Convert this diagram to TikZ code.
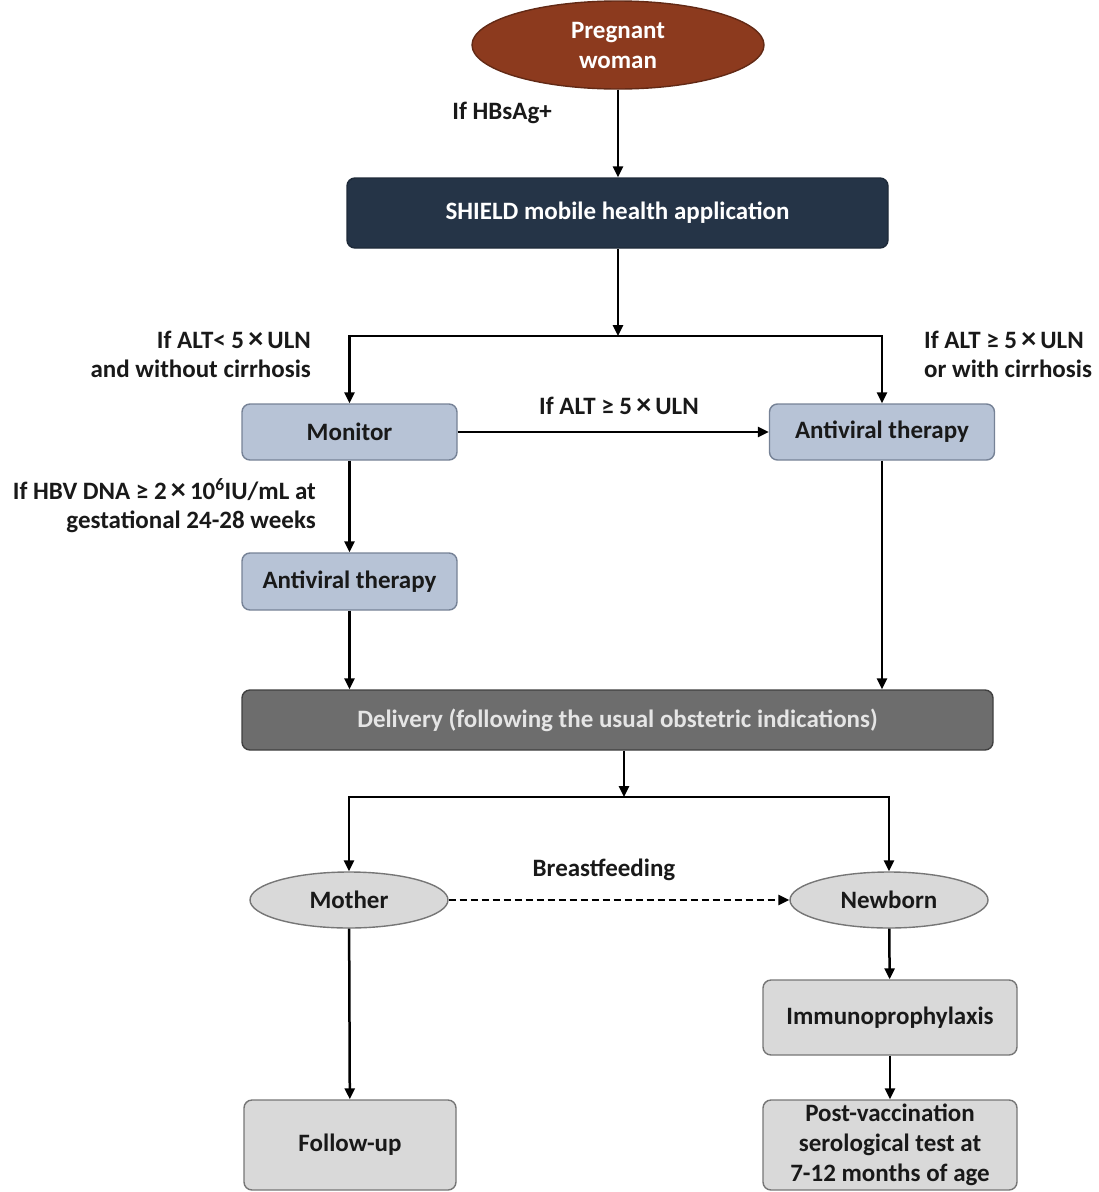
\documentclass[tikz,border=0pt]{standalone}
\usepackage{fontspec}
\setmainfont{Carlito}
\usetikzlibrary{arrows.meta,shapes.geometric}
\definecolor{brownred}{RGB}{140,58,30}
\definecolor{navy}{RGB}{37,52,71}
\definecolor{lblue}{RGB}{183,195,214}
\definecolor{lblueb}{RGB}{118,130,150}
\definecolor{dgray}{RGB}{109,109,109}
\definecolor{lgray}{RGB}{217,217,217}
\definecolor{lgrayb}{RGB}{118,118,118}
\definecolor{txt}{RGB}{25,25,25}
\newcommand{\mytimes}{\,{\fontsize{30}{30}\selectfont ×}\,}
\begin{document}
\begin{tikzpicture}[x=1pt,y=-1pt,
  font=\bfseries\fontsize{25}{30}\selectfont,
  box/.style={rectangle, rounded corners=8pt, line width=1.4pt, align=center, inner sep=0pt},
  bluebox/.style={box, fill=lblue, draw=lblueb, text=txt},
  graybox/.style={box, fill=lgray, draw=lgrayb, text=txt},
  oval/.style={ellipse, inner sep=0pt, line width=1.4pt, align=center},
  lbl/.style={text=txt, inner sep=0pt, font=\bfseries\fontsize{25}{29}\selectfont},
  arr/.style={line width=2.5pt, draw=black, -{Triangle[length=11pt,width=10pt]}},
  plain/.style={line width=2.5pt, draw=black}
]
\useasboundingbox (0,0) rectangle (1099,1192);

% nodes
\node[oval, fill=brownred, draw=brownred!70!black, text=white, minimum width=292, minimum height=88] (pw) at (618,45) {Pregnant\\woman};
\node[box, fill=navy, draw=navy!80!black, text=white, minimum width=541, minimum height=70] (shield) at (617.5,213) {SHIELD mobile health application};
\node[bluebox, minimum width=215, minimum height=56] (mon) at (349.5,432) {Monitor};
\node[bluebox, minimum width=225, minimum height=56] (avr) at (882,432) {Antiviral therapy};
\node[bluebox, minimum width=215, minimum height=57] (av2) at (349.5,581.5) {Antiviral therapy};
\node[box, fill=dgray, draw=black!75, text=white!90!black, minimum width=751, minimum height=60] (del) at (617.5,720) {Delivery (following the usual obstetric indications)};
\node[oval, fill=lgray, draw=lgrayb, text=txt, minimum width=198, minimum height=56] (mother) at (349,900) {Mother};
\node[oval, fill=lgray, draw=lgrayb, text=txt, minimum width=198, minimum height=56] (newborn) at (889,900) {Newborn};
\node[graybox, minimum width=212, minimum height=90] (fu) at (350,1145) {Follow-up};
\node[graybox, minimum width=254, minimum height=75] (imm) at (890,1017.5) {Immunoprophylaxis};
\node[graybox, minimum width=254, minimum height=90] (pv) at (890,1145) {Post-vaccination\\serological test at\\7-12 months of age};

% junction coordinates
\coordinate (j1) at (618,336);
\coordinate (j2) at (624,797);

% connectors
\draw[arr] (pw.south) -- (pw.south |- shield.north);
\draw[arr] (shield.south -| j1) -- (j1);
\draw[arr] (j1) -| (mon.north);
\draw[arr] (j1) -| (avr.north);
\draw[arr] (mon) -- (avr);
\draw[arr] (mon) -- (av2);
\draw[arr] (av2.south) -- (av2.south |- del.north);
\draw[arr] (avr.south) -- (avr.south |- del.north);
\draw[arr] (del.south -| j2) -- (j2);
\draw[arr] (j2) -| (mother.north);
\draw[arr] (j2) -| (newborn.north);
\draw[arr, dashed, dash pattern=on 7pt off 4pt] (mother) -- (newborn);
\draw[arr] (mother) -- (fu);
\draw[arr] (newborn) -- (imm);
\draw[arr] (imm) -- (pv);

% labels
\node[lbl, anchor=east] (l1) at (552,113) {If HBsAg+};
\node[lbl, anchor=east, align=right] (l2) at (311,354) {If ALT< 5\mytimes ULN\\and without cirrhosis};
\node[lbl, anchor=west, align=left] (l3) at (924,354) {If ALT ≥ 5\mytimes ULN\\or with cirrhosis};
\node[lbl] (l4) at (619,406) {If ALT ≥ 5\mytimes ULN};
\node[lbl, anchor=east, align=right] (l5) at (316,506) {If HBV DNA ≥ 2\mytimes 10\textsuperscript{6}IU/mL at\\gestational 24-28 weeks};
\node[lbl] (l6) at (604,870) {Breastfeeding};
\end{tikzpicture}
\end{document}
